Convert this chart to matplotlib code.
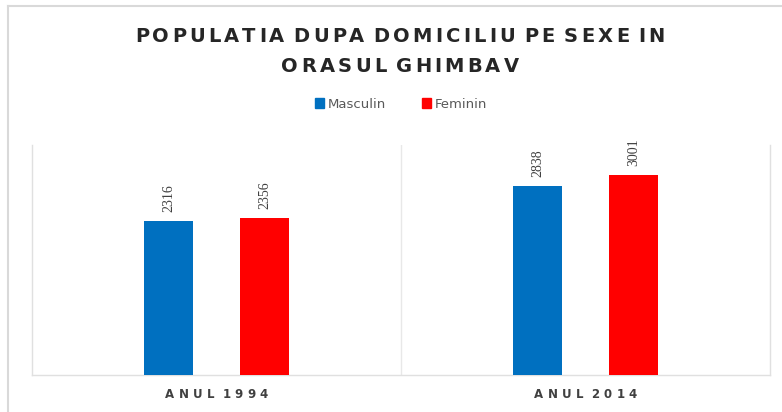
import numpy as np
import matplotlib
matplotlib.use("Agg")
import matplotlib.pyplot as plt
from matplotlib.patches import Patch
from matplotlib.lines import Line2D
from matplotlib.font_manager import FontProperties

categories = ["ANUL 1994", "ANUL 2014"]
series_names = ["Masculin", "Feminin"]
masculin = [2316, 2838]
feminin = [2356, 3001]
colors = ["#0070C0", "#FF0000"]
title_lines = ["POPULATIA DUPA DOMICILIU PE SEXE IN", "ORASUL GHIMBAV"]

fig = plt.figure(figsize=(7.82, 4.12), dpi=100)
W, H = 782, 412
renderer = fig.canvas.get_renderer()


def tracked_text(cx, cy, s, prop, color, target_w=None, track=None, word_extra=3):
    # letter-by-letter text, to get the wide tracking of the original
    letters = [ch for ch in s if ch != " "]
    widths = {ch: renderer.get_text_width_height_descent(ch, prop, ismath=False)[0] for ch in letters}
    n_words = len(s.split())
    sum_w = sum(widths[ch] for ch in letters)
    if track is None:
        track = (target_w - sum_w - (n_words - 1) * word_extra) / (len(letters) - 1)
    total = sum_w + track * (len(letters) - 1) + (n_words - 1) * word_extra
    xpos = cx - total / 2
    for i, ch in enumerate(s):
        if ch == " ":
            xpos += word_extra
            continue
        fig.text(xpos / W, 1 - cy / H, ch, fontproperties=prop, color=color,
                 ha="left", va="center")
        xpos += widths[ch] + track
    return track


# plot area in pixel coords -> figure fractions
left, right, top, bottom = 32, 770, 145, 375
ax = fig.add_axes([left / W, 1 - bottom / H, (right - left) / W, (bottom - top) / H])

x = np.arange(len(categories))
width = 0.135
offset = 0.13
for vals, name, col, off in zip([masculin, feminin], series_names, colors, [-offset, offset]):
    bars = ax.bar(x + off, vals, width=width, color=col, label=name, zorder=3)
    for b, v in zip(bars, vals):
        ax.text(b.get_x() + b.get_width() / 2, v + 130, str(v), rotation=90,
                ha="center", va="bottom", fontsize=10, color="#404040",
                family="Liberation Serif")

ax.set_xlim(-0.5, 1.5)
ax.set_ylim(0, 3450)
ax.set_yticks([])
ax.set_xticks([])
ax.spines["top"].set_visible(False)
for s in ["left", "right", "bottom"]:
    ax.spines[s].set_color("#e0e0e0")
    ax.spines[s].set_linewidth(1)
ax.axvline(0.5, color="#e8e8e8", lw=1, zorder=1)

# category labels
cat_prop = FontProperties(family="DejaVu Sans", weight="bold", size=8.5)
for i, c in enumerate(categories):
    px = left + (i + 0.5) / 2 * (right - left)
    tracked_text(px, 395, c, cat_prop, "#404040", target_w=103, word_extra=4)

# title
title_prop = FontProperties(family="DejaVu Sans", weight="bold", size=14)
tr = tracked_text(400, 37, title_lines[0], title_prop, "#262626", target_w=530, word_extra=6)
tracked_text(400, 66, title_lines[1], title_prop, "#262626", track=tr, word_extra=6)

handles = [Patch(color=c) for c in colors]
fig.legend(handles, series_names, loc="center", bbox_to_anchor=(401 / W, 1 - 104 / H),
           ncol=2, frameon=False, fontsize=9.5, handlelength=0.7, handleheight=0.7,
           handletextpad=0.3, columnspacing=2.7, labelcolor="#595959")

# outer chart frame
fig.add_artist(Line2D([8 / W, 8 / W], [0, 1 - 6 / H], transform=fig.transFigure,
                      color="#d9d9d9", lw=1.5))
fig.add_artist(Line2D([8 / W, 1], [1 - 6 / H, 1 - 6 / H], transform=fig.transFigure,
                      color="#d9d9d9", lw=1.5))

fig.savefig("out.png", dpi=100)
